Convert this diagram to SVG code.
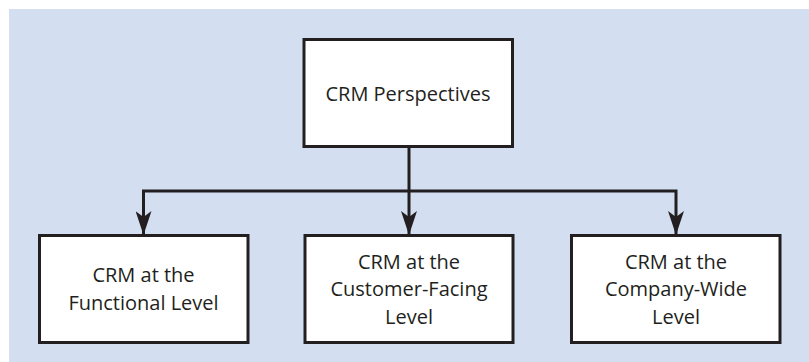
<svg xmlns="http://www.w3.org/2000/svg" width="809" height="362" viewBox="0 0 809 362">
<style>
.box{fill:#ffffff;stroke:#231f20;stroke-width:3}
.lbl{font-family:"Open Sans","Liberation Sans",sans-serif;font-size:20px;fill:#231f20;text-anchor:middle}
.con{fill:none;stroke:#231f20;stroke-width:3}
</style>
<defs>
<marker id="ah" markerUnits="userSpaceOnUse" viewBox="0 0 24 16" refX="23" refY="8" markerWidth="24" markerHeight="16" orient="auto">
<path d="M0,0 L24,8 L0,16 L6,8 z" fill="#231f20"/>
</marker>
</defs>
<rect x="9" y="9" width="800" height="353" fill="#d3dff0"/>
<g id="connectors">
<line class="con" x1="409" y1="147" x2="409" y2="234" marker-end="url(#ah)"/>
<polyline class="con" points="143.5,234 143.5,191 676,191 676,234" marker-end="url(#ah)"/>
<line class="con" x1="143.5" y1="191" x2="143.5" y2="234" marker-end="url(#ah)"/>
</g>
<g id="crm-perspectives">
<rect class="box" x="304" y="39.5" width="208.5" height="107"/>
<text class="lbl" x="408" y="101">CRM Perspectives</text>
</g>
<g id="functional">
<rect class="box" x="39.5" y="235.5" width="208.5" height="107"/>
<text class="lbl" x="143.5" y="282">CRM at the</text>
<text class="lbl" x="143.5" y="309.5">Functional Level</text>
</g>
<g id="customer-facing">
<rect class="box" x="305" y="235.5" width="208" height="107"/>
<text class="lbl" x="409" y="268.5">CRM at the</text>
<text class="lbl" x="409" y="296">Customer-Facing</text>
<text class="lbl" x="409" y="323.5">Level</text>
</g>
<g id="company-wide">
<rect class="box" x="571.5" y="235.5" width="208.5" height="107"/>
<text class="lbl" x="676" y="268.5">CRM at the</text>
<text class="lbl" x="676" y="296">Company-Wide</text>
<text class="lbl" x="676" y="323.5">Level</text>
</g>
</svg>
